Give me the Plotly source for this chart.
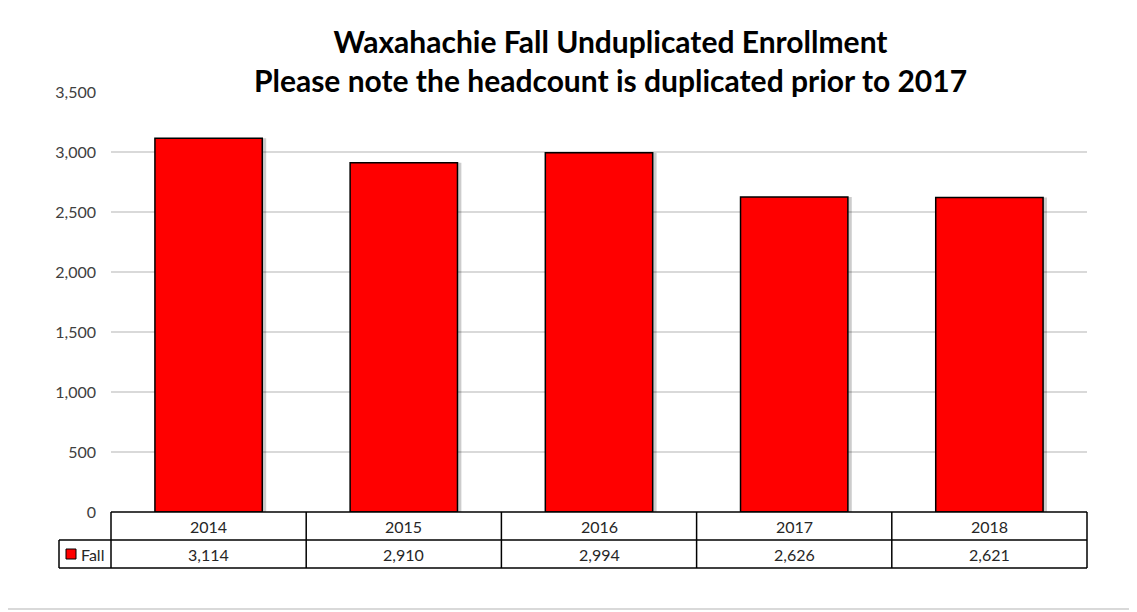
import plotly.graph_objects as go

# data
years = ["2014", "2015", "2016", "2017", "2018"]
fall = [3114, 2910, 2994, 2626, 2621]
series_name = "Fall"

# the page puts the figure 8px in from the top-left corner, so everything is shifted by that
W, H = 1137, 612
OFF = 8
L, T = 111 - OFF, 92 - OFF
R, B = W - (1087 - OFF), H - (512 - OFF)
pw, ph = W - L - R, H - T - B
row = 28  # table row height in px

def py(px):  # pixel offset below plot bottom -> paper y
    return -px / ph

def px_x(px):  # pixel x in reference -> paper x
    return (px - OFF - L) / pw

fig = go.Figure()

# soft shadow behind bars
fig.add_trace(go.Bar(x=years, y=fall, width=0.55, offset=-0.255,
                     marker=dict(color="rgba(0,0,0,0.2)", line=dict(width=0)),
                     hoverinfo="skip", showlegend=False))
fig.add_trace(go.Bar(x=years, y=fall, width=0.55, name=series_name,
                     marker=dict(color="#ff0000", line=dict(color="black", width=1.5)),
                     showlegend=False))

shapes = []
line = dict(color="black", width=1.5)
# horizontal table lines
shapes.append(dict(type="line", xref="paper", yref="paper", x0=0, x1=1, y0=0, y1=0, line=line))
shapes.append(dict(type="line", xref="paper", yref="paper", x0=px_x(59), x1=1,
                   y0=py(row), y1=py(row), line=line))
shapes.append(dict(type="line", xref="paper", yref="paper", x0=px_x(59), x1=1,
                   y0=py(2 * row), y1=py(2 * row), line=line))
# vertical table lines
for i in range(len(years) + 1):
    xx = i / len(years)
    shapes.append(dict(type="line", xref="paper", yref="paper", x0=xx, x1=xx,
                       y0=0, y1=py(2 * row), line=line))
shapes.append(dict(type="line", xref="paper", yref="paper", x0=px_x(59), x1=px_x(59),
                   y0=py(row), y1=py(2 * row), line=line))
# legend key
shapes.append(dict(type="rect", xref="paper", yref="paper",
                   x0=px_x(66), x1=px_x(76), y0=py(row + 9), y1=py(row + 19),
                   fillcolor="#ff0000", line=dict(color="black", width=1)))
# chart border (right and bottom edges visible)
border = dict(color="#d9d9d9", width=2)
shapes.append(dict(type="line", xref="paper", yref="paper",
                   x0=px_x(1134), x1=px_x(1134), y0=py(609 - 512), y1=1 + 100 / ph, line=border))
shapes.append(dict(type="line", xref="paper", yref="paper",
                   x0=px_x(0), x1=px_x(1134), y0=py(609 - 512), y1=py(609 - 512), line=border))

annotations = []
tf = dict(family="Lato, Open Sans, sans-serif", size=16, color="#262626")
for i, (yr, v) in enumerate(zip(years, fall)):
    annotations.append(dict(x=i, xref="x", y=py(row / 2), yref="paper", text=yr,
                            showarrow=False, font=tf, yanchor="middle"))
    annotations.append(dict(x=i, xref="x", y=py(row * 1.5), yref="paper",
                            text=f"{v:,}", showarrow=False, font=tf, yanchor="middle"))
annotations.append(dict(x=px_x(79), xref="paper", y=py(row * 1.5), yref="paper",
                        text=series_name, showarrow=False, font=tf,
                        xanchor="left", yanchor="middle"))

fig.update_layout(
    width=W, height=H,
    margin=dict(l=L, r=R, t=T, b=B),
    paper_bgcolor="white", plot_bgcolor="white",
    barmode="overlay",
    title=dict(text="Waxahachie Fall Unduplicated Enrollment<br>Please note the headcount is duplicated prior to 2017",
               x=(610.5 - OFF) / W, xanchor="center", yref="container",
               y=1 - (52.5 - OFF) / H, yanchor="middle",
               font=dict(family="Lato, Open Sans, sans-serif", size=30, color="black", weight="bold")),
    xaxis=dict(type="category", range=[-0.5, 4.5], showticklabels=False,
               showgrid=False, zeroline=False, showline=False),
    yaxis=dict(range=[0, 3500], dtick=500, tickformat=",", showgrid=True,
               gridcolor="#d9d9d9", gridwidth=1.5, zeroline=False, showline=False,
               ticks="", ticklabelstandoff=14,
               tickfont=dict(family="Lato, Open Sans, sans-serif", size=16, color="#404040")),
    shapes=shapes, annotations=annotations,
    showlegend=False,
)

fig.write_html("out.html")
